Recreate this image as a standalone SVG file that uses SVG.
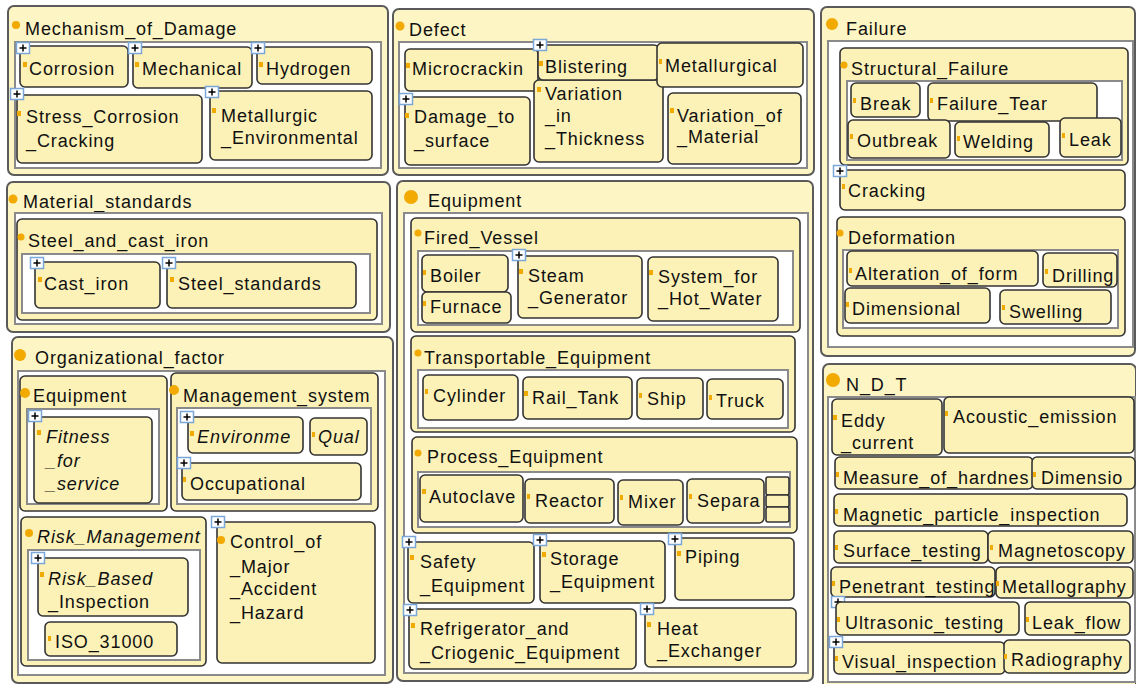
<svg xmlns="http://www.w3.org/2000/svg" xmlns:xlink="http://www.w3.org/1999/xlink" width="1136" height="684" viewBox="0 0 1136 684">
<style>
.panel{fill:#fdf5c3;stroke:#5a5a5a;stroke-width:2}
.box{fill:#fcf2b7;stroke:#333;stroke-width:1.6}
.cont{fill:#fff;stroke:#8a8a8a;stroke-width:2}
.t{font-family:"Liberation Sans",Arial,sans-serif;font-size:18px;letter-spacing:0.9px;fill:#111}
.i{font-style:italic}
.dot{fill:#f2a900}
.sq{fill:#f2a900}
</style>
<defs>
<g id="plus"><rect x="0.5" y="0.5" width="13" height="11" fill="#fff" stroke="#7aa6d8" stroke-width="1.5"/><path d="M3.5 6H10.5M7 2.5V9.5" stroke="#000" stroke-width="1.5"/></g>
</defs>
<rect width="1136" height="684" fill="#fff"/>

<g id="mechanism_of_damage">
<rect class="panel" x="8" y="6" width="380" height="169" rx="6"/>
<circle class="dot" cx="16" cy="25" r="4"/>
<text class="t" x="25" y="35">Mechanism_of_Damage</text>
<rect class="cont" x="15" y="42" width="366" height="126"/>
</g>
<g id="corrosion"><rect class="box" x="20" y="46" width="108" height="41" rx="5"/><rect class="sq" x="23" y="62" width="4" height="5"/><text class="t" x="29" y="75">Corrosion</text><use xlink:href="#plus" x="16" y="42"/></g>
<g id="mechanical"><rect class="box" x="133" y="47" width="119" height="41" rx="5"/><rect class="sq" x="135" y="62" width="4" height="5"/><text class="t" x="142" y="75">Mechanical</text><use xlink:href="#plus" x="128" y="42"/></g>
<g id="hydrogen"><rect class="box" x="257" y="47" width="115" height="37" rx="5"/><rect class="sq" x="259" y="62" width="4" height="5"/><text class="t" x="266" y="75">Hydrogen</text><use xlink:href="#plus" x="251" y="42"/></g>
<g id="stress_corrosion_cracking"><rect class="box" x="17" y="95" width="185" height="68" rx="5"/><rect class="sq" x="17" y="111" width="4" height="5"/><text class="t" x="26" y="123">Stress_Corrosion</text><text class="t" x="26" y="147">_Cracking</text><use xlink:href="#plus" x="10" y="88"/></g>
<g id="metallurgic_environmental"><rect class="box" x="210" y="91" width="162" height="69" rx="5"/><rect class="sq" x="212" y="108" width="4" height="5"/><text class="t" x="221" y="122">Metallurgic</text><text class="t" x="221" y="144">_Environmental</text><use xlink:href="#plus" x="205" y="86"/></g>

<g id="defect">
<rect class="panel" x="393" y="9" width="421" height="166" rx="6"/>
<circle class="dot" cx="400" cy="26" r="4.5"/>
<text class="t" x="409" y="36">Defect</text>
<rect class="cont" x="399" y="42" width="408" height="126"/>
</g>
<g id="microcrackin"><rect class="box" x="405" y="49" width="133" height="42" rx="5"/><rect class="sq" x="406" y="63" width="4" height="5"/><text class="t" x="412" y="75">Microcrackin</text></g>
<g id="variation_in_thickness"><rect class="box" x="534" y="80" width="129" height="82" rx="5"/><rect class="sq" x="537" y="87" width="4" height="5"/><text class="t" x="545" y="100">Variation</text><text class="t" x="545" y="122">_in</text><text class="t" x="545" y="145">_Thickness</text></g>
<g id="blistering"><rect class="box" x="538" y="45" width="121" height="35" rx="5"/><rect class="sq" x="539" y="61" width="4" height="5"/><text class="t" x="545" y="73">Blistering</text><use xlink:href="#plus" x="533" y="39"/></g>
<g id="metallurgical"><rect class="box" x="657" y="43" width="146" height="44" rx="5"/><rect class="sq" x="659" y="59" width="3" height="5"/><text class="t" x="665" y="72">Metallurgical</text></g>
<g id="damage_to_surface"><rect class="box" x="405" y="97" width="125" height="68" rx="5"/><rect class="sq" x="405" y="113" width="4" height="5"/><text class="t" x="414" y="123">Damage_to</text><text class="t" x="414" y="147">_surface</text><use xlink:href="#plus" x="399" y="93"/></g>
<g id="variation_of_material"><rect class="box" x="668" y="93" width="133" height="71" rx="5"/><rect class="sq" x="670" y="108" width="4" height="5"/><text class="t" x="677" y="122">Variation_of</text><text class="t" x="677" y="143">_Material</text></g>

<g id="failure">
<rect class="panel" x="821" y="7" width="314" height="349" rx="6"/>
<circle class="dot" cx="832" cy="24" r="6"/>
<text class="t" x="846" y="35">Failure</text>
<rect class="cont" x="828" y="41" width="305" height="306"/>
</g>
<g id="structural_failure">
<rect class="box" x="840" y="48" width="288" height="117" rx="5"/>
<circle class="dot" cx="844" cy="65" r="3.5"/>
<text class="t" x="851" y="75">Structural_Failure</text>
<rect class="cont" x="847" y="81" width="275" height="79"/>
</g>
<g id="break"><rect class="box" x="851" y="83" width="69" height="34" rx="5"/><rect class="sq" x="853" y="98" width="3" height="5"/><text class="t" x="860" y="110">Break</text></g>
<g id="failure_tear"><rect class="box" x="928" y="83" width="169" height="38" rx="5"/><rect class="sq" x="930" y="98" width="3" height="5"/><text class="t" x="937" y="110">Failure_Tear</text></g>
<g id="outbreak"><rect class="box" x="848" y="120" width="102" height="38" rx="5"/><rect class="sq" x="850" y="134" width="3" height="5"/><text class="t" x="857" y="147">Outbreak</text></g>
<g id="welding"><rect class="box" x="955" y="122" width="94" height="35" rx="5"/><rect class="sq" x="957" y="136" width="3" height="5"/><text class="t" x="963" y="148">Welding</text></g>
<g id="leak"><rect class="box" x="1060" y="118" width="61" height="39" rx="5"/><rect class="sq" x="1062" y="133" width="3" height="5"/><text class="t" x="1069" y="146">Leak</text></g>
<g id="cracking"><rect class="box" x="840" y="170" width="285" height="40" rx="5"/><rect class="sq" x="842" y="184" width="3" height="5"/><text class="t" x="848" y="197">Cracking</text><use xlink:href="#plus" x="833" y="165"/></g>
<g id="deformation">
<rect class="box" x="837" y="217" width="288" height="119" rx="5"/>
<circle class="dot" cx="840" cy="233" r="3.5"/>
<text class="t" x="848" y="244">Deformation</text>
<rect class="cont" x="843" y="250" width="275" height="78"/>
</g>
<g id="alteration_of_form"><rect class="box" x="847" y="251" width="191" height="35" rx="5"/><rect class="sq" x="849" y="268" width="3" height="5"/><text class="t" x="855" y="280">Alteration_of_form</text></g>
<g id="drilling"><rect class="box" x="1043" y="253" width="74" height="34" rx="5"/><rect class="sq" x="1045" y="269" width="3" height="5"/><text class="t" x="1052" y="282">Drilling</text></g>
<g id="dimensional"><rect class="box" x="845" y="288" width="145" height="35" rx="5"/><rect class="sq" x="846" y="302" width="3" height="5"/><text class="t" x="852" y="315">Dimensional</text></g>
<g id="swelling"><rect class="box" x="1000" y="290" width="111" height="34" rx="5"/><rect class="sq" x="1002" y="305" width="3" height="5"/><text class="t" x="1009" y="318">Swelling</text></g>

<g id="material_standards">
<rect class="panel" x="7" y="182" width="383" height="150" rx="6"/>
<circle class="dot" cx="13" cy="199" r="4.5"/>
<text class="t" x="23" y="208">Material_standards</text>
<rect class="cont" x="15" y="213" width="367" height="111"/>
</g>
<g id="steel_and_cast_iron">
<rect class="box" x="17" y="219" width="360" height="101" rx="5"/>
<circle class="dot" cx="21" cy="237" r="3.5"/>
<text class="t" x="28" y="247">Steel_and_cast_iron</text>
<rect class="cont" x="22" y="254" width="348" height="59"/>
</g>
<g id="cast_iron"><rect class="box" x="35" y="262" width="125" height="46" rx="5"/><rect class="sq" x="38" y="277" width="4" height="5"/><text class="t" x="44" y="290">Cast_iron</text><use xlink:href="#plus" x="30" y="257"/></g>
<g id="steel_standards"><rect class="box" x="167" y="262" width="189" height="46" rx="5"/><rect class="sq" x="170" y="277" width="4" height="5"/><text class="t" x="178" y="290">Steel_standards</text><use xlink:href="#plus" x="162" y="257"/></g>

<g id="organizational_factor">
<rect class="panel" x="12" y="337" width="381" height="346" rx="6"/>
<circle class="dot" cx="20" cy="355" r="6"/>
<text class="t" x="35" y="364">Organizational_factor</text>
<rect class="cont" x="18" y="371" width="367" height="304"/>
</g>
<g id="org_equipment">
<rect class="box" x="20" y="376" width="147" height="135" rx="5"/>
<circle class="dot" cx="25" cy="393" r="5"/>
<text class="t" x="33" y="402">Equipment</text>
<rect class="cont" x="27" y="409" width="132" height="95"/>
</g>
<g id="fitness_for_service"><rect class="box" x="34" y="417" width="118" height="86" rx="5"/><rect class="sq" x="37" y="430" width="4" height="5"/><text class="t i" x="46" y="443">Fitness</text><text class="t i" x="46" y="467">_for</text><text class="t i" x="46" y="490">_service</text><use xlink:href="#plus" x="28" y="410"/></g>
<g id="management_system">
<rect class="box" x="171" y="373" width="207" height="138" rx="5"/>
<circle class="dot" cx="174" cy="390" r="5"/>
<text class="t" x="183" y="402">Management_system</text>
<rect class="cont" x="177" y="408" width="194" height="96"/>
</g>
<g id="environme"><rect class="box" x="188" y="417" width="115" height="36" rx="5"/><rect class="sq" x="190" y="431" width="4" height="5"/><text class="t i" x="197" y="443">Environme</text><use xlink:href="#plus" x="180" y="411"/></g>
<g id="qual"><rect class="box" x="310" y="418" width="57" height="37" rx="5"/><rect class="sq" x="312" y="432" width="3" height="5"/><text class="t i" x="318" y="443">Qual</text></g>
<g id="occupational"><rect class="box" x="182" y="463" width="179" height="37" rx="5"/><rect class="sq" x="183" y="477" width="3" height="5"/><text class="t" x="190" y="490">Occupational</text><use xlink:href="#plus" x="177" y="457"/></g>
<g id="risk_management">
<rect class="box" x="21" y="517" width="185" height="149" rx="5"/>
<circle class="dot" cx="29" cy="533" r="4"/>
<text class="t i" x="37" y="543">Risk_Management</text>
<rect class="cont" x="28" y="550" width="172" height="110"/>
</g>
<g id="risk_based_inspection"><rect class="box" x="38" y="558" width="150" height="58" rx="5"/><rect class="sq" x="40" y="572" width="4" height="5"/><text class="t i" x="48" y="585">Risk_Based</text><text class="t" x="48" y="608">_Inspection</text><use xlink:href="#plus" x="31" y="552"/></g>
<g id="iso_31000"><rect class="box" x="45" y="622" width="132" height="34" rx="5"/><rect class="sq" x="48" y="636" width="3" height="5"/><text class="t" x="55" y="648">ISO_31000</text></g>
<g id="control_of_major_accident_hazard"><rect class="box" x="217" y="522" width="158" height="141" rx="5"/><circle class="dot" cx="221" cy="540" r="4"/><text class="t" x="230" y="548">Control_of</text><text class="t" x="230" y="573">_Major</text><text class="t" x="230" y="595">_Accident</text><text class="t" x="230" y="619">_Hazard</text><use xlink:href="#plus" x="211" y="516"/></g>

<g id="equipment">
<rect class="panel" x="397" y="181" width="416" height="500" rx="6"/>
<circle class="dot" cx="411" cy="197" r="7"/>
<text class="t" x="428" y="207">Equipment</text>
<rect class="cont" x="404" y="213" width="404" height="460"/>
</g>
<g id="fired_vessel">
<rect class="box" x="411" y="218" width="389" height="114" rx="5"/>
<circle class="dot" cx="418" cy="233" r="3.5"/>
<text class="t" x="424" y="244">Fired_Vessel</text>
<rect class="cont" x="418" y="251" width="375" height="74"/>
</g>
<g id="boiler"><rect class="box" x="422" y="255" width="86" height="37" rx="5"/><rect class="sq" x="423" y="270" width="3" height="5"/><text class="t" x="430" y="282">Boiler</text></g>
<g id="furnace"><rect class="box" x="422" y="292" width="89" height="31" rx="5"/><rect class="sq" x="423" y="301" width="3" height="5"/><text class="t" x="430" y="313">Furnace</text></g>
<g id="steam_generator"><rect class="box" x="518" y="256" width="124" height="62" rx="5"/><rect class="sq" x="519" y="269" width="4" height="5"/><text class="t" x="528" y="282">Steam</text><text class="t" x="528" y="304">_Generator</text><use xlink:href="#plus" x="512" y="249"/></g>
<g id="system_for_hot_water"><rect class="box" x="648" y="257" width="130" height="64" rx="5"/><rect class="sq" x="649" y="270" width="4" height="5"/><text class="t" x="658" y="283">System_for</text><text class="t" x="658" y="305">_Hot_Water</text></g>
<g id="transportable_equipment">
<rect class="box" x="411" y="336" width="384" height="96" rx="5"/>
<circle class="dot" cx="418" cy="353" r="3.5"/>
<text class="t" x="424" y="364">Transportable_Equipment</text>
<rect class="cont" x="418" y="370" width="370" height="58"/>
</g>
<g id="cylinder"><rect class="box" x="423" y="375" width="95" height="45" rx="5"/><rect class="sq" x="425" y="389" width="3" height="5"/><text class="t" x="433" y="402">Cylinder</text></g>
<g id="rail_tank"><rect class="box" x="523" y="377" width="109" height="42" rx="5"/><rect class="sq" x="524" y="391" width="4" height="5"/><text class="t" x="532" y="404">Rail_Tank</text></g>
<g id="ship"><rect class="box" x="637" y="378" width="66" height="41" rx="5"/><rect class="sq" x="639" y="393" width="3" height="5"/><text class="t" x="647" y="405">Ship</text></g>
<g id="truck"><rect class="box" x="707" y="379" width="76" height="40" rx="5"/><rect class="sq" x="709" y="395" width="3" height="5"/><text class="t" x="716" y="407">Truck</text></g>
<g id="process_equipment">
<rect class="box" x="412" y="437" width="385" height="96" rx="5"/>
<circle class="dot" cx="418" cy="453" r="3.5"/>
<text class="t" x="427" y="463">Process_Equipment</text>
<rect class="cont" x="418" y="472" width="372" height="55"/>
</g>
<g id="autoclave"><rect class="box" x="420" y="475" width="103" height="47" rx="5"/><rect class="sq" x="422" y="489" width="4" height="5"/><text class="t" x="429" y="503">Autoclave</text></g>
<g id="reactor"><rect class="box" x="525" y="479" width="89" height="44" rx="5"/><rect class="sq" x="527" y="494" width="3" height="5"/><text class="t" x="535" y="507">Reactor</text></g>
<g id="mixer"><rect class="box" x="618" y="480" width="65" height="45" rx="5"/><rect class="sq" x="620" y="495" width="3" height="5"/><text class="t" x="628" y="508">Mixer</text></g>
<g id="separa"><rect class="box" x="687" y="479" width="77" height="44" rx="5"/><rect class="sq" x="689" y="494" width="3" height="5"/><text class="t" x="697" y="507">Separa</text></g>
<g id="process_more"><rect class="box" x="766" y="477" width="23" height="18" rx="2"/><rect class="box" x="766" y="495" width="23" height="12" rx="2"/><rect class="box" x="766" y="507" width="23" height="15" rx="2"/></g>
<g id="safety_equipment"><rect class="box" x="408" y="542" width="126" height="61" rx="5"/><rect class="sq" x="410" y="555" width="4" height="5"/><text class="t" x="420" y="568">Safety</text><text class="t" x="420" y="592">_Equipment</text><use xlink:href="#plus" x="402" y="536"/></g>
<g id="storage_equipment"><rect class="box" x="540" y="541" width="125" height="62" rx="5"/><rect class="sq" x="542" y="552" width="4" height="5"/><text class="t" x="550" y="565">Storage</text><text class="t" x="550" y="588">_Equipment</text><use xlink:href="#plus" x="533" y="534"/></g>
<g id="piping"><rect class="box" x="675" y="538" width="119" height="62" rx="5"/><rect class="sq" x="677" y="551" width="4" height="5"/><text class="t" x="685" y="563">Piping</text><use xlink:href="#plus" x="668" y="533"/></g>
<g id="refrigerator_and_criogenic_equipment"><rect class="box" x="409" y="609" width="227" height="60" rx="5"/><rect class="sq" x="411" y="623" width="4" height="5"/><text class="t" x="420" y="635">Refrigerator_and</text><text class="t" x="420" y="659">_Criogenic_Equipment</text><use xlink:href="#plus" x="403" y="604"/></g>
<g id="heat_exchanger"><rect class="box" x="645" y="608" width="151" height="59" rx="5"/><rect class="sq" x="647" y="622" width="4" height="5"/><text class="t" x="657" y="635">Heat</text><text class="t" x="657" y="657">_Exchanger</text><use xlink:href="#plus" x="640" y="603"/></g>

<g id="n_d_t">
<rect class="panel" x="823" y="364" width="313" height="330" rx="6"/>
<circle class="dot" cx="833" cy="380" r="7"/>
<text class="t" x="846" y="391">N_D_T</text>
<rect class="cont" x="828" y="397" width="307" height="285"/>
</g>
<g id="eddy_current"><rect class="box" x="832" y="399" width="110" height="56" rx="5"/><rect class="sq" x="833" y="415" width="4" height="5"/><text class="t" x="841" y="427">Eddy</text><text class="t" x="841" y="449">_current</text></g>
<g id="acoustic_emission"><rect class="box" x="944" y="397" width="190" height="56" rx="5"/><rect class="sq" x="945" y="411" width="3" height="5"/><text class="t" x="953" y="423">Acoustic_emission</text></g>
<g id="measure_of_hardnes"><rect class="box" x="835" y="457" width="198" height="32" rx="5"/><rect class="sq" x="836" y="472" width="3" height="5"/><text class="t" x="843" y="484">Measure_of_hardnes</text></g>
<g id="dimensio"><rect class="box" x="1032" y="457" width="103" height="32" rx="5"/><rect class="sq" x="1033" y="472" width="3" height="5"/><text class="t" x="1041" y="484">Dimensio</text></g>
<g id="magnetic_particle_inspection"><rect class="box" x="834" y="494" width="293" height="32" rx="5"/><rect class="sq" x="835" y="509" width="3" height="5"/><text class="t" x="843" y="521">Magnetic_particle_inspection</text></g>
<g id="surface_testing"><rect class="box" x="834" y="531" width="154" height="32" rx="5"/><rect class="sq" x="835" y="545" width="3" height="5"/><text class="t" x="843" y="557">Surface_testing</text></g>
<g id="magnetoscopy"><rect class="box" x="988" y="531" width="145" height="32" rx="5"/><rect class="sq" x="990" y="545" width="3" height="5"/><text class="t" x="998" y="557">Magnetoscopy</text></g>
<g id="penetrant_testing"><rect class="box" x="831" y="567" width="164" height="30" rx="5"/><rect class="sq" x="832" y="581" width="3" height="5"/><text class="t" x="839" y="593">Penetrant_testing</text></g>
<g id="metallography"><rect class="box" x="996" y="567" width="137" height="31" rx="5"/><rect class="sq" x="996" y="581" width="3" height="5"/><text class="t" x="1002" y="593">Metallography</text></g>
<g id="ultrasonic_testing"><use xlink:href="#plus" x="831" y="596"/><rect class="box" x="836" y="602" width="183" height="33" rx="5"/><rect class="sq" x="837" y="617" width="3" height="5"/><text class="t" x="845" y="629">Ultrasonic_testing</text></g>
<g id="leak_flow"><rect class="box" x="1025" y="602" width="105" height="33" rx="5"/><rect class="sq" x="1026" y="617" width="3" height="5"/><text class="t" x="1032" y="629">Leak_flow</text></g>
<g id="visual_inspection"><rect class="box" x="834" y="642" width="171" height="32" rx="5"/><rect class="sq" x="835" y="656" width="3" height="5"/><text class="t" x="842" y="668">Visual_inspection</text><use xlink:href="#plus" x="829" y="636"/></g>
<g id="radiography"><rect class="box" x="1004" y="640" width="126" height="33" rx="5"/><rect class="sq" x="1004" y="654" width="3" height="5"/><text class="t" x="1011" y="666">Radiography</text></g>

<g id="connectors"></g>
</svg>
